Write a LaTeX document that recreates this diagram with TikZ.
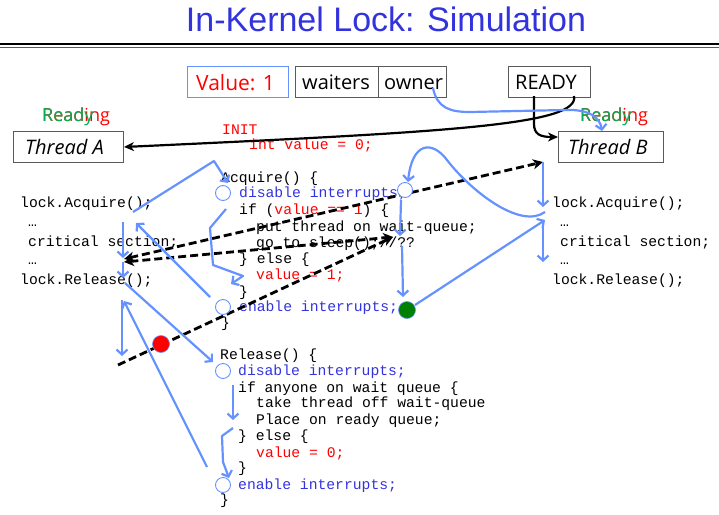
\documentclass[tikz,border=0pt]{standalone}
\usepackage{fontspec}
\setmainfont{Liberation Sans}
\newfontfamily\codefont{Liberation Mono}
\newfontfamily\handfont{Open Sans}
\usetikzlibrary{arrows.meta}
\definecolor{lblue}{RGB}{102,146,255}
\definecolor{tblue}{RGB}{51,51,221}
\definecolor{rgreen}{RGB}{0,176,80}
\definecolor{dgreen}{RGB}{0,128,0}
\definecolor{bgray}{RGB}{90,90,90}
\tikzset{
 jt/.tip={Stealth[length=10pt,width=10pt,inset=3pt]},
 code/.style={font=\codefont\fontsize{14.7}{16}\selectfont, anchor=base west, inner sep=0pt},
 hand/.style={font=\handfont\fontsize{20}{22}\selectfont, anchor=base west, inner sep=0pt},
 boxed/.style={draw=bgray, line width=1pt, inner sep=0pt, anchor=north west},
 flow/.style={draw=lblue, line width=2.2pt, line join=round, -{Straight Barb[length=5pt,width=11pt]}},
 jump/.style={draw=black, line width=2.8pt, dash pattern=on 8pt off 4pt},
 blk/.style={draw=black, line width=2.2pt, -{Stealth[length=10pt,width=9pt,inset=3pt]}},
 ocirc/.style={circle, draw=lblue, fill=white, line width=0.9pt, minimum size=15pt, inner sep=0pt},
 fcirc/.style={circle, draw=lblue, line width=0.6pt, minimum size=17pt, inner sep=0pt},
}
\begin{document}
\begin{tikzpicture}[x=1pt,y=-1pt]
\useasboundingbox (0,0) rectangle (719,514);
% title
\node[anchor=base, inner sep=0pt, text=tblue, font=\fontsize{34}{36}\selectfont] (title) at (386,31) {In-Kernel Lock: Simulation};
\draw[line width=2pt] (0,44) -- (719,44);
\draw[line width=0.8pt, bgray] (0,47.5) -- (719,47.5);
% top boxes
\node[boxed, draw=lblue, minimum width=101pt, minimum height=31pt] (vbox) at (187,66) {};
\node[hand, text=red, font=\handfont\fontsize{21}{22}\selectfont] (vtext) at (196,90) {Value: 1};
\node[boxed, minimum width=83pt, minimum height=31pt] (wbox) at (295,66) {};
\node[boxed, minimum width=68pt, minimum height=31pt] (obox) at (378,66) {};
\node[hand] (wtext) at (302,89) {waiters};
\node[hand] (otext) at (384,89) {owner};
\node[boxed, minimum width=82pt, minimum height=31pt] (ready) at (508,66) {};
\node[hand] (rtext) at (515,89) {READY};
% threads
\node[boxed, minimum width=110pt, minimum height=31pt] (thA) at (13,131) {};
\node[hand, font=\handfont\itshape\fontsize{20}{22}\selectfont] (thAt) at (25,154) {Thread A};
\node[boxed, minimum width=105pt, minimum height=31pt] (thB) at (558,131) {};
\node[hand, font=\handfont\itshape\fontsize{20}{22}\selectfont] (thBt) at (568,154) {Thread B};
\node[hand, text=red, font=\handfont\fontsize{18}{20}\selectfont] (rdA) at (42,121) {Reading};
\node[hand, text=rgreen, font=\handfont\fontsize{18}{20}\selectfont] (ryA) at (42,121) {Ready};
\node[hand, text=red, font=\handfont\fontsize{18}{20}\selectfont] (rdB) at (580,121) {Reading};
\node[hand, text=rgreen, font=\handfont\fontsize{18}{20}\selectfont] (ryB) at (580,121) {Ready};
% INIT
\node[code, text=red] (init) at (222,134) {INIT};
\node[code, text=red] (initv) at (249,149) {int value = 0;};
% left code
\node[code] (la1) at (20,207) {lock.Acquire();};
\node[code] (la2) at (28,226) {…};
\node[code] (la3) at (28,246) {critical section;};
\node[code] (la4) at (28,264) {…};
\node[code] (la5) at (20,284) {lock.Release();};
% right code
\node[code] (ra1) at (552,207) {lock.Acquire();};
\node[code] (ra2) at (560,226) {…};
\node[code] (ra3) at (560,246) {critical section;};
\node[code] (ra4) at (560,264) {…};
\node[code] (ra5) at (552,284) {lock.Release();};
% Acquire
\node[code] (q1) at (221,182) {Acquire() \{};
\node[code, text=tblue] (q2) at (239,197) {disable interrupts;};
\node[code] (q3) at (239,214) {if ({\color{red}value == 1}) \{};
\node[code] (q4) at (256,231) {put thread on wait-queue;};
\node[code] (q5) at (256,247) {go to sleep();//??};
\node[code] (q6) at (239,263) {\} else \{};
\node[code, text=red] (q7) at (256,279) {value = 1;};
\node[code] (q8) at (239,296) {\}};
\node[code, text=tblue] (q9) at (239,311) {enable interrupts;};
\node[code] (q10) at (221,327) {\}};
% Release
\node[code] (r1) at (220,359) {Release() \{};
\node[code, text=tblue] (r2) at (238,375) {disable interrupts;};
\node[code] (r3) at (238,392) {if anyone on wait queue \{};
\node[code] (r4) at (256,407) {take thread off wait-queue};
\node[code] (r5) at (256,424) {Place on ready queue;};
\node[code] (r6) at (238,440) {\} else \{};
\node[code, text=red] (r7) at (256,457) {value = 0;};
\node[code] (r8) at (238,472) {\}};
\node[code, text=tblue] (r9) at (238,489) {enable interrupts;};
\node[code] (r10) at (220,504) {\}};
% black arrows
\draw[blk] (574,96) .. controls (580,125) and (450,132) .. (thA.east);
\draw[blk] (534,96) -- (534,124) .. controls (534,134) and (540,137) .. ([yshift=-6pt]thB.north west);
% owner curve
\draw[flow] (433,88) .. controls (437,108) and (450,112) .. (470,112) -- (565,110) .. controls (590,109) and (600,118) .. ([xshift=44pt]thB.north west);
% coordinates
\coordinate (pA) at (124,259);
\coordinate (pA2) at (124,262);
\coordinate (pB) at (543,162);
\coordinate (pS) at (393,237);
\coordinate (pR) at (118,365);
% dashed context switches
\draw[jump, jt-jt] (pA) -- (pB);
\draw[jump, jt-jt] (pA2) -- (pS);
\draw[jump, -jt] (pR) -- (pS);
% blue flows
\draw[flow] (133,212) -- (214,161) -- (228,183);
\draw[flow] (226,209) -- (210,228) -- (213,265) -- (243,276) -- (231,284);
\draw[flow] (210,297) -- (136,223);
\draw[flow] (123,222) -- (123,258);
\draw[flow] (123,262) -- (123,278);
\draw[flow] (125,283) -- (213,362);
\draw[flow] (122,300) -- (122,356);
\draw[flow] (207,467) -- (124,301);
\draw[flow] (233,385) -- (233,420);
\draw[flow] (233,428) -- (222,436) -- (223,462) -- (229,478);
\draw[flow] (545,212) .. controls (520,230) and (470,190) .. (447,160) .. controls (432,140) and (412,142) .. (408,182);
\draw[flow] (401,200) -- (400,236);
\draw[flow] (402,246) -- (403,297);
\draw[flow] (415,305) -- (545,220);
\draw[flow] (pB) -- (543,207);
\draw[flow] (543,228) -- (543,262);
% circles
\node[ocirc] (c1) at (223,193) {};
\node[ocirc] (c2) at (223,307) {};
\node[ocirc] (c3) at (405,190) {};
\node[ocirc] (c4) at (223,371) {};
\node[ocirc] (c5) at (223,485) {};
\node[fcirc, fill=red] (red) at (161,344) {};
\node[fcirc, fill=dgreen] (grn) at (407,310) {};
\end{tikzpicture}
\end{document}
